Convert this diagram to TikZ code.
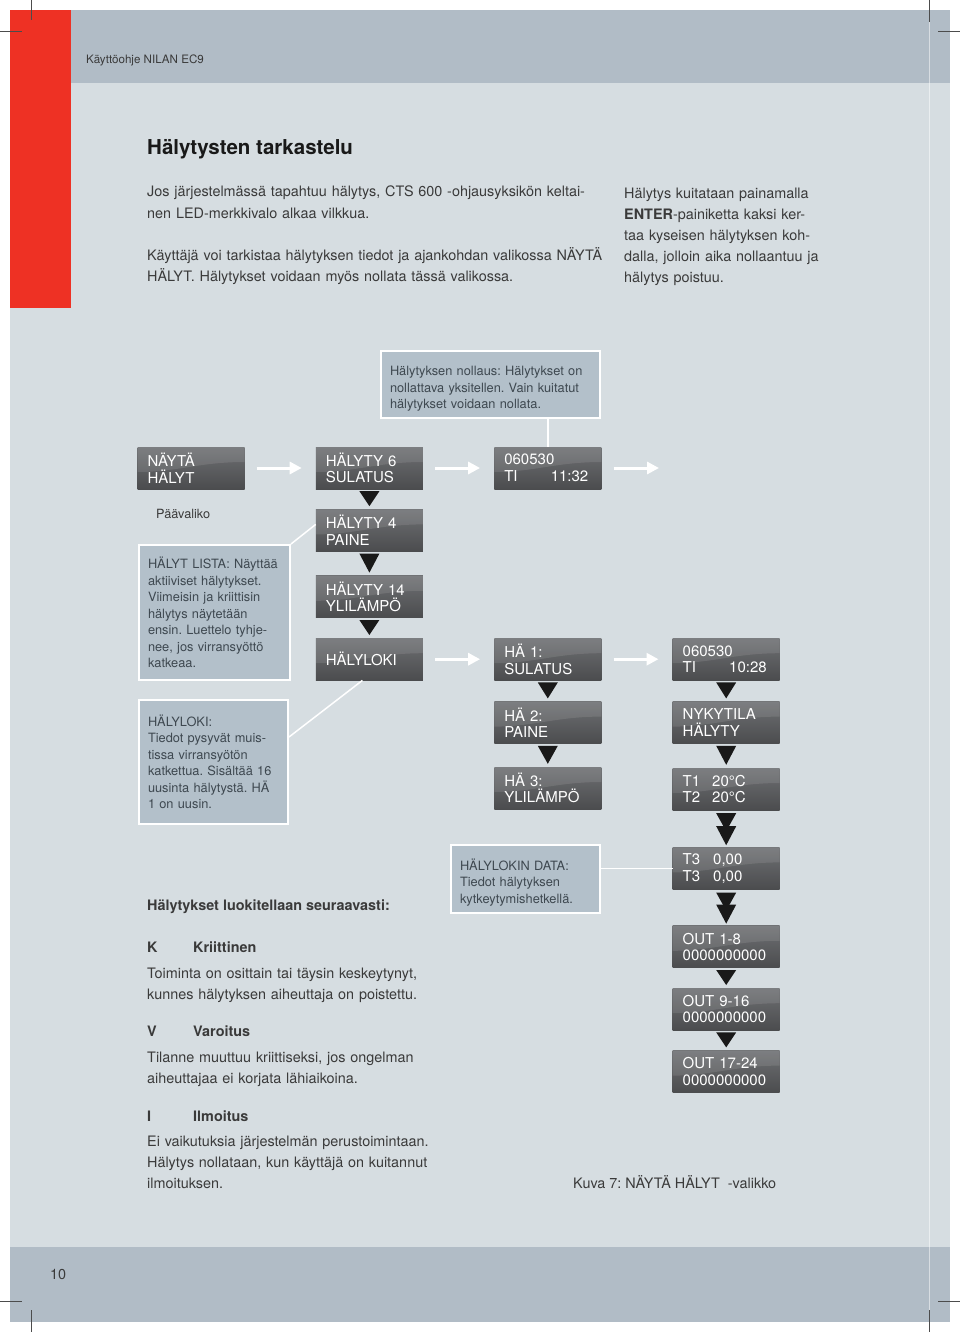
\documentclass[tikz,border=0pt]{standalone}
\usepackage{fontspec}
\setmainfont{TeX Gyre Heros}
\usetikzlibrary{positioning,arrows.meta}
\frenchspacing

\definecolor{pagebg}{HTML}{D6DDE1}
\definecolor{band}{HTML}{B1BCC6}
\definecolor{redbar}{HTML}{EE3124}
\definecolor{callfill}{HTML}{B3C0CA}
\definecolor{calltext}{HTML}{3E4850}
\definecolor{bodytext}{HTML}{3A3A3A}
\definecolor{disptop}{HTML}{6E7073}
\definecolor{dispbot}{HTML}{4B4C4E}

\newcommand{\tridown}[2]{\fill[trifill] ([xshift=-10pt,yshift=-2pt]#1.south) -- ([xshift=10pt,yshift=-2pt]#1.south) -- ([yshift=3pt]#2.north) -- cycle;}
\newcommand{\tridouble}[2]{%
  \fill[trifill] ([xshift=-10pt,yshift=-3pt]#1.south) -- ([xshift=10pt,yshift=-3pt]#1.south) -- ([yshift=-21pt]#1.south) -- cycle;
  \fill[trifill] ([xshift=-10pt,yshift=21pt]#2.north) -- ([xshift=10pt,yshift=21pt]#2.north) -- ([yshift=2pt]#2.north) -- cycle;}

\begin{document}
\begin{tikzpicture}[x=1pt, y=-1pt,
  disp/.style={rectangle, minimum width=107pt, minimum height=42pt, inner xsep=10pt, inner ysep=0pt,
    text width=87pt, align=left, top color=disptop, bottom color=dispbot, text=white,
    font=\fontsize{15}{16.5}\selectfont,
    path picture={\fill[white, opacity=0.10] (path picture bounding box.north west) -- (path picture bounding box.north east)
      -- ([yshift=6pt]path picture bounding box.east)
      .. controls ([xshift=-45pt,yshift=6pt]path picture bounding box.east) and ([xshift=40pt,yshift=-4pt]path picture bounding box.west)
      .. ([yshift=-4pt]path picture bounding box.west) -- cycle;}},
  callout/.style={rectangle, draw=white, line width=2pt, fill=callfill, text=calltext, align=left,
    inner xsep=9pt, inner ysep=0pt, font=\fontsize{12.8}{16.5}\selectfont},
  warr/.style={white, line width=3pt, -{Triangle[width=12pt,length=12pt]}},
  callline/.style={white, line width=1.5pt},
  trifill/.style={fill=black!90},
  body/.style={anchor=base west, inner sep=0pt, align=left, text=bodytext, font=\fontsize{14.4}{21}\selectfont},
  cropmark/.style={black!70, line width=0.5pt}]

  \useasboundingbox (0,0) rectangle (960,1332);
  \fill[pagebg] (10,83) rectangle (950,1247);
  \fill[band] (10,10) rectangle (950,83);
  \fill[band] (10,1247) rectangle (950,1322);
  \fill[redbar] (10,10) rectangle (71,308);
  \draw[white, opacity=0.5, line width=0.6pt] (929,22) -- (929,1310);
  \draw[cropmark] (0,31) -- (22,31) (31,0) -- (31,20) (938,31) -- (960,31) (929,0) -- (929,22);
  \draw[cropmark] (0,1301) -- (22,1301) (31,1310) -- (31,1332) (938,1301) -- (960,1301) (929,1310) -- (929,1332);

  \node[anchor=base west, inner sep=0pt, text=bodytext, font=\fontsize{11.6}{14}\selectfont] (hdr) at (86,64) {Käyttöohje NILAN EC9};
  \node[anchor=base west, inner sep=0pt, text=black!90, font=\bfseries\fontsize{20.5}{26}\selectfont] (ttl) at (147,155) {Hälytysten tarkastelu};
  \node[body, text width=470pt] (par1) at (147,197) {Jos järjestelmässä tapahtuu hälytys, CTS 600 -ohjausyksikön keltai-\\nen LED-merkkivalo alkaa vilkkua.};
  \node[body, text width=470pt] (par2) at (147,260) {Käyttäjä voi tarkistaa hälytyksen tiedot ja ajankohdan valikossa NÄYTÄ\\HÄLYT. Hälytykset voidaan myös nollata tässä valikossa.};
  \node[body, text width=210pt] (par3) at (624,199) {Hälytys kuitataan painamalla\\\textbf{ENTER}-painiketta kaksi ker-\\taa kyseisen hälytyksen koh-\\dalla, jolloin aika nollaantuu ja\\hälytys poistuu.};

  \node[callout, minimum width=219pt, minimum height=67pt, text width=201pt] (nollaus) at (490.5,384.5) {\rule{0pt}{18pt}Hälytyksen nollaus: Hälytykset on\\nollattava yksitellen. Vain kuitatut\\hälytykset voidaan nollata.};

  \node[disp] (nayta) at (191,468) {NÄYTÄ\\HÄLYT};
  \node[disp, right=71pt of nayta] (hal6) {HÄLYTY 6\\SULATUS};
  \node[disp, right=71pt of hal6] (klo1132) {060530\\\makebox[84pt]{TI\hfill 11:32}};
  \node[disp, below=20pt of hal6] (hal4) {HÄLYTY 4\\PAINE};
  \node[disp, below=24pt of hal4] (hal14) {HÄLYTY 14\\YLILÄMPÖ};
  \node[disp, below=20pt of hal14] (hlok) {HÄLYLOKI};
  \node[disp, right=71pt of hlok] (ha1) {HÄ 1:\\SULATUS};
  \node[disp, below=21pt of ha1] (ha2) {HÄ 2:\\PAINE};
  \node[disp, below=23pt of ha2] (ha3) {HÄ 3:\\YLILÄMPÖ};
  \node[disp, right=71pt of ha1] (klo1028) {060530\\\makebox[84pt]{TI\hfill 10:28}};
  \node[disp, below=21pt of klo1028] (nyk) {NYKYTILA\\HÄLYTY};
  \node[disp, below=24pt of nyk] (tt12) {T1\hspace{12pt}20°C\\T2\hspace{12pt}20°C};
  \node[disp, below=37pt of tt12] (tt3) {T3\hspace{13pt}0,00\\T3\hspace{13pt}0,00};
  \node[disp, below=36pt of tt3] (out1) {OUT 1-8\\0000000000};
  \node[disp, below=20pt of out1] (out9) {OUT 9-16\\0000000000};
  \node[disp, below=20pt of out9] (out17) {OUT 17-24\\0000000000};

  \node[anchor=base west, inner sep=0pt, text=bodytext, font=\fontsize{12.7}{16}\selectfont] (paav) at (156,518) {Päävaliko};

  \node[callout, minimum width=151pt, minimum height=135pt, text width=133pt] (lista) at (214.5,612.5) {HÄLYT LISTA: Näyttää\\aktiiviset hälytykset.\\Viimeisin ja kriittisin\\hälytys näytetään\\ensin. Luettelo tyhje-\\nee, jos virransyöttö\\katkeaa.};
  \node[callout, minimum width=149pt, minimum height=124pt, text width=131pt] (lokinfo) at (213.5,762) {HÄLYLOKI:\\Tiedot pysyvät muis-\\tissa virransyötön\\katkettua. Sisältää 16\\uusinta hälytystä. HÄ\\1 on uusin.};
  \node[callout, minimum width=149pt, minimum height=68pt, text width=131pt] (lokdata) at (525.5,879) {\rule{0pt}{18pt}HÄLYLOKIN DATA:\\Tiedot hälytyksen\\kytkeytymishetkellä.};

  \coordinate (nxt) at (659,468);
  \draw[warr] ([xshift=12pt]nayta.east) -- ([xshift=-14pt]hal6.west);
  \draw[warr] ([xshift=12pt]hal6.east) -- ([xshift=-14pt]klo1132.west);
  \draw[warr] ([xshift=12pt]klo1132.east) -- (nxt);
  \draw[warr] ([xshift=12pt]hlok.east) -- ([xshift=-14pt]ha1.west);
  \draw[warr] ([xshift=12pt]ha1.east) -- ([xshift=-14pt]klo1028.west);

  \draw[callline] (nollaus.south -| klo1132.north) -- (klo1132.north);
  \draw[callline] (lista.north east) -- ([yshift=6pt]hal4.west);
  \draw[callline] ([yshift=25pt]lokinfo.east) -- ([xshift=-7pt]hlok.south);
  \draw[callline] (lokdata.east |- tt3.west) -- (tt3.west);

  \tridown{hal6}{hal4}
  \tridown{hal4}{hal14}
  \tridown{hal14}{hlok}
  \tridown{ha1}{ha2}
  \tridown{ha2}{ha3}
  \tridown{klo1028}{nyk}
  \tridown{nyk}{tt12}
  \tridouble{tt12}{tt3}
  \tridouble{tt3}{out1}
  \tridown{out1}{out9}
  \tridown{out9}{out17}

  \node[body, font=\bfseries\fontsize{14.4}{21}\selectfont] (luok) at (147,910) {Hälytykset luokitellaan seuraavasti:};
  \node[body, font=\bfseries\fontsize{14.4}{21}\selectfont] (kriit) at (147,952) {\makebox[46pt][l]{K}Kriittinen};
  \node[body, text width=300pt] (kdesc) at (147,978) {Toiminta on osittain tai täysin keskeytynyt,\\kunnes hälytyksen aiheuttaja on poistettu.};
  \node[body, font=\bfseries\fontsize{14.4}{21}\selectfont] (varo) at (147,1036) {\makebox[46pt][l]{V}Varoitus};
  \node[body, text width=300pt] (vdesc) at (147,1062) {Tilanne muuttuu kriittiseksi, jos ongelman\\aiheuttajaa ei korjata lähiaikoina.};
  \node[body, font=\bfseries\fontsize{14.4}{21}\selectfont] (ilmo) at (147,1121) {\makebox[46pt][l]{I}Ilmoitus};
  \node[body, text width=300pt] (idesc) at (147,1146) {Ei vaikutuksia järjestelmän perustoimintaan.\\Hälytys nollataan, kun käyttäjä on kuitannut\\ilmoituksen.};
  \node[body] (kuva) at (573,1188) {Kuva 7: NÄYTÄ HÄLYT\ \ -valikko};
  \node[body] (sivu) at (50,1279) {10};
\end{tikzpicture}
\end{document}
